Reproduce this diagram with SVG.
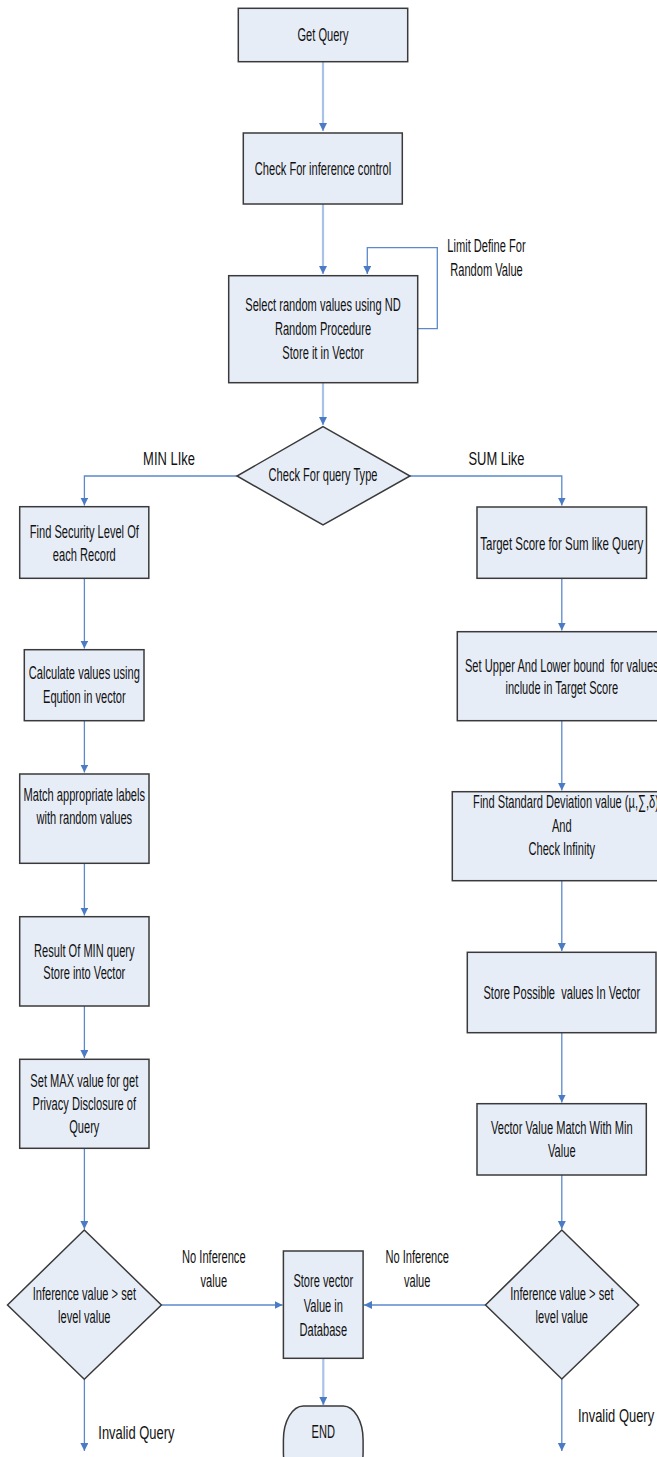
<svg xmlns="http://www.w3.org/2000/svg" width="657" height="1457" viewBox="0 0 657 1457">
<style>
.box{fill:#E7EDF7;stroke:#3a3a3a;stroke-width:1.5}
.t{font-family:"Liberation Sans",Arial,sans-serif;font-size:18.5px;fill:#111;text-anchor:middle}
.c{fill:none;stroke:#5B89CC;stroke-width:1.3}
.cl{fill:none;stroke:#A9C3E8;stroke-width:2.2}
</style>
<defs>
<marker id="ar" markerUnits="userSpaceOnUse" markerWidth="10" markerHeight="10" refX="8" refY="4" orient="auto">
<path d="M0,0 L8,4 L0,8 z" fill="#4A7BC4"/>
</marker>
</defs>
<g id="connectors">
<path class="cl" d="M323,62 V131" marker-end="url(#ar)"/>
<path class="cl" d="M323,204 V274" marker-end="url(#ar)"/>
<path class="c" d="M418,328.7 H437.3 V247.7 H367.3 V274" marker-end="url(#ar)"/>
<path class="cl" d="M323,383 V425" marker-end="url(#ar)"/>
<path class="c" d="M237,476 H84.4 V505.5" marker-end="url(#ar)"/>
<path class="c" d="M410,476 H561.8 V505.5" marker-end="url(#ar)"/>
<path class="c" d="M84.4,578.3 V648.5" marker-end="url(#ar)"/>
<path class="c" d="M84.4,720.7 V772.5" marker-end="url(#ar)"/>
<path class="c" d="M84.4,863.3 V915.5" marker-end="url(#ar)"/>
<path class="c" d="M84.4,1006 V1058" marker-end="url(#ar)"/>
<path class="c" d="M84.4,1148.3 V1229" marker-end="url(#ar)"/>
<path class="c" d="M561.8,578.3 V630.5" marker-end="url(#ar)"/>
<path class="c" d="M561.8,720.7 V790.5" marker-end="url(#ar)"/>
<path class="c" d="M561.8,880.7 V951" marker-end="url(#ar)"/>
<path class="c" d="M561.8,1032.7 V1102.5" marker-end="url(#ar)"/>
<path class="c" d="M561.8,1175 V1229" marker-end="url(#ar)"/>
<path class="c" d="M161.4,1305 H282.5" marker-end="url(#ar)"/>
<path class="c" d="M485.5,1305 H364" marker-end="url(#ar)"/>
<path class="cl" d="M323.3,1358.3 V1405" marker-end="url(#ar)"/>
<path class="c" d="M84.4,1379.3 V1451" marker-end="url(#ar)"/>
<path class="c" d="M561.8,1379 V1451" marker-end="url(#ar)"/>
</g>
<g id="get-query">
<rect class="box" x="238.3" y="8.3" width="169.4" height="53.4"/>
<text class="t" transform="translate(323 0) scale(0.6 1)" x="0" y="41">Get Query</text>
</g>
<g id="check-inference">
<rect class="box" x="243.3" y="133" width="159" height="71"/>
<text class="t" transform="translate(323 0) scale(0.6 1)" x="0" y="175">Check For inference control</text>
</g>
<g id="select-random">
<rect class="box" x="228.7" y="275.7" width="189" height="107"/>
<text class="t" transform="translate(323 0) scale(0.6 1)" x="0" y="311">Select random values using ND</text>
<text class="t" transform="translate(323 0) scale(0.6 1)" x="0" y="335">Random Procedure</text>
<text class="t" transform="translate(323 0) scale(0.6 1)" x="0" y="359">Store it in Vector</text>
</g>
<g id="limit-label">
<text class="t" transform="translate(486.5 0) scale(0.6 1)" x="0" y="252">Limit Define For</text>
<text class="t" transform="translate(486.5 0) scale(0.6 1)" x="0" y="276.5">Random Value</text>
</g>
<g id="query-type">
<polygon class="box" points="323,426.7 410,476 323,525 237,476"/>
<text class="t" transform="translate(323 0) scale(0.6 1)" x="0" y="481.5">Check For query Type</text>
</g>
<g id="branch-labels">
<text class="t" transform="translate(169 0) scale(0.7 1)" x="0" y="465.5">MIN LIke</text>
<text class="t" transform="translate(496.5 0) scale(0.7 1)" x="0" y="465.5">SUM Like</text>
</g>
<g id="find-security">
<rect class="box" x="19.7" y="506.7" width="129.1" height="71.6"/>
<text class="t" transform="translate(84.3 0) scale(0.6 1)" x="0" y="537.7">Find Security Level Of</text>
<text class="t" transform="translate(84.3 0) scale(0.6 1)" x="0" y="561">each Record</text>
</g>
<g id="calculate-values">
<rect class="box" x="24.3" y="649.7" width="119.7" height="71"/>
<text class="t" transform="translate(84.3 0) scale(0.6 1)" x="0" y="679.3">Calculate values using</text>
<text class="t" transform="translate(84.3 0) scale(0.6 1)" x="0" y="703.3">Eqution in vector</text>
</g>
<g id="match-labels">
<rect class="box" x="19.7" y="774" width="129.3" height="89.3"/>
<text class="t" transform="translate(84.3 0) scale(0.6 1)" x="0" y="801">Match appropriate labels</text>
<text class="t" transform="translate(84.3 0) scale(0.6 1)" x="0" y="824.3">with random values</text>
</g>
<g id="result-min">
<rect class="box" x="19.7" y="916.7" width="129.3" height="89.3"/>
<text class="t" transform="translate(84.3 0) scale(0.6 1)" x="0" y="956.7">Result Of MIN query</text>
<text class="t" transform="translate(84.3 0) scale(0.6 1)" x="0" y="978.7">Store into Vector</text>
</g>
<g id="set-max">
<rect class="box" x="19.7" y="1059.3" width="129.3" height="89"/>
<text class="t" transform="translate(84.3 0) scale(0.6 1)" x="0" y="1086.7">Set MAX value for get</text>
<text class="t" transform="translate(84.3 0) scale(0.6 1)" x="0" y="1110">Privacy Disclosure of</text>
<text class="t" transform="translate(84.3 0) scale(0.6 1)" x="0" y="1132.7">Query</text>
</g>
<g id="target-score">
<rect class="box" x="477" y="507" width="169.5" height="71.3"/>
<text class="t" transform="translate(561.8 0) scale(0.62 1)" x="0" y="550">Target Score for Sum like Query</text>
</g>
<g id="set-bounds">
<rect class="box" x="457.3" y="631.7" width="209" height="89"/>
<text class="t" xml:space="preserve" transform="translate(561.8 0) scale(0.6 1)" x="0" y="671.7">Set Upper And Lower bound  for values</text>
<text class="t" transform="translate(561.8 0) scale(0.6 1)" x="0" y="694.3">include in Target Score</text>
</g>
<g id="std-deviation">
<rect class="box" x="452.3" y="791.7" width="219" height="89"/>
<text class="t" transform="translate(566 0) scale(0.6 1)" x="0" y="808.3">Find Standard Deviation value (µ,∑,δ)</text>
<text class="t" transform="translate(561.8 0) scale(0.6 1)" x="0" y="831.7">And</text>
<text class="t" transform="translate(561.8 0) scale(0.6 1)" x="0" y="855">Check Infinity</text>
</g>
<g id="store-possible">
<rect class="box" x="467.3" y="952.3" width="188.7" height="80.4"/>
<text class="t" xml:space="preserve" transform="translate(561.8 0) scale(0.6 1)" x="0" y="999.3">Store Possible  values In Vector</text>
</g>
<g id="vector-match">
<rect class="box" x="477" y="1103.7" width="169.3" height="71.3"/>
<text class="t" transform="translate(561.8 0) scale(0.6 1)" x="0" y="1134.3">Vector Value Match With Min</text>
<text class="t" transform="translate(561.8 0) scale(0.6 1)" x="0" y="1156.7">Value</text>
</g>
<g id="inference-left">
<polygon class="box" points="84.3,1230 161.4,1305 84.3,1379.3 7.5,1305"/>
<text class="t" transform="translate(84.3 0) scale(0.6 1)" x="0" y="1300">Inference value &gt; set</text>
<text class="t" transform="translate(84.3 0) scale(0.6 1)" x="0" y="1323.3">level value</text>
</g>
<g id="inference-right">
<polygon class="box" points="561.8,1230 638.6,1305 561.8,1379 485.5,1305"/>
<text class="t" transform="translate(561.8 0) scale(0.6 1)" x="0" y="1300">Inference value &gt; set</text>
<text class="t" transform="translate(561.8 0) scale(0.6 1)" x="0" y="1323.3">level value</text>
</g>
<g id="store-database">
<rect class="box" x="283.4" y="1251" width="79.7" height="107.3"/>
<text class="t" transform="translate(323.3 0) scale(0.6 1)" x="0" y="1287.3">Store vector</text>
<text class="t" transform="translate(323.3 0) scale(0.6 1)" x="0" y="1311.7">Value in</text>
<text class="t" transform="translate(323.3 0) scale(0.6 1)" x="0" y="1335.7">Database</text>
</g>
<g id="end">
<rect class="box" x="283.4" y="1406" width="79.7" height="80" rx="20" ry="34"/>
<text class="t" transform="translate(323.3 0) scale(0.6 1)" x="0" y="1438.3">END</text>
</g>
<g id="edge-labels">
<text class="t" transform="translate(213.8 0) scale(0.6 1)" x="0" y="1263.3">No Inference</text>
<text class="t" transform="translate(213.8 0) scale(0.6 1)" x="0" y="1287.3">value</text>
<text class="t" transform="translate(417.2 0) scale(0.6 1)" x="0" y="1263.3">No Inference</text>
<text class="t" transform="translate(417.2 0) scale(0.6 1)" x="0" y="1287.3">value</text>
<text class="t" transform="translate(136.4 0) scale(0.7 1)" x="0" y="1439.3">Invalid Query</text>
<text class="t" transform="translate(616 0) scale(0.7 1)" x="0" y="1422">Invalid Query</text>
</g>
</svg>
